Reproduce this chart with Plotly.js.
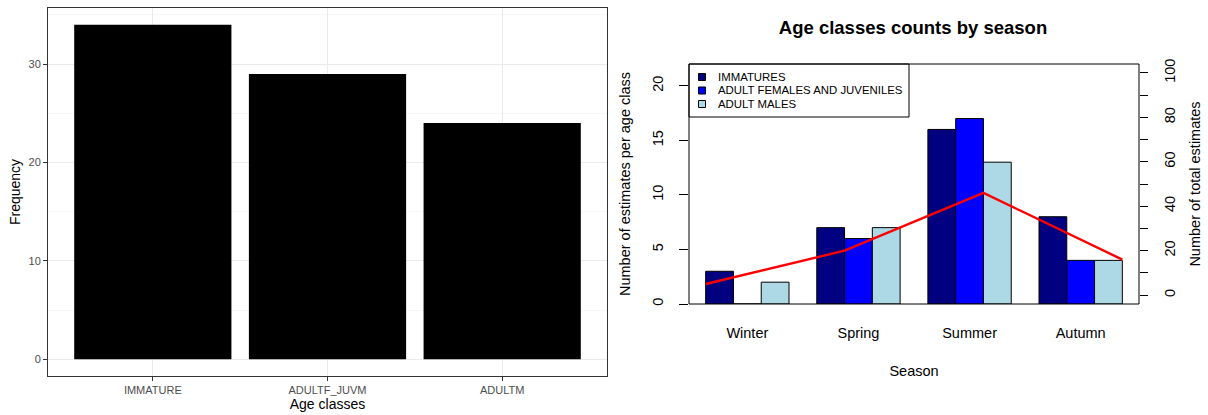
<!DOCTYPE html>
<html>
<head>
<meta charset="utf-8">
<script src="https://cdn.plot.ly/plotly-3.0.1.min.js"></script>
<style>
html,body{margin:0;padding:0;background:#fff;}
#chart{width:1208px;height:415px;}
</style>
</head>
<body>
<div id="chart"></div>
<script>
// ---- data ----
const ageClasses = ['IMMATURE', 'ADULTF_JUVM', 'ADULTM'];
const ageFrequency = [34, 29, 24];

const seasons = ['Winter', 'Spring', 'Summer', 'Autumn'];
const seriesNames = ['IMMATURES', 'ADULT FEMALES AND JUVENILES', 'ADULT MALES'];
const immatures = [3, 7, 16, 8];
const adultFemalesJuveniles = [0, 6, 17, 4];
const adultMales = [2, 7, 13, 4];
const totalEstimates = [5, 20, 46, 16];

const leftTicks = [0, 10, 20, 30];
const leftMinor = [5, 15, 25, 35];
const countTicks = [0, 5, 10, 15, 20];
const totalTicks = [0, 10, 20, 30, 40, 50, 60, 70, 80, 90, 100];
const totalTickText = ['0', '', '20', '', '40', '', '60', '', '80', '', '100'];

// ---- style ----
const FONT = 'Liberation Sans, Arial, sans-serif';
const colors = ['#000080', '#0000FF', '#ADD8E6'];
const seriesValues = [immatures, adultFemalesJuveniles, adultMales];

const traces = [];
traces.push({
  type: 'bar', x: ageClasses, y: ageFrequency, xaxis: 'x', yaxis: 'y',
  width: 0.9, marker: {color: '#000000'}, showlegend: false, hoverinfo: 'x+y'
});
seriesValues.forEach((vals, i) => {
  traces.push({
    type: 'bar', x: seasons, y: vals, name: seriesNames[i], xaxis: 'x2', yaxis: 'y2',
    marker: {color: colors[i], line: {color: '#000000', width: 1}}, showlegend: false
  });
});
traces.push({
  type: 'scatter', mode: 'lines', x: seasons.map((s, i) => i + 1), y: totalEstimates,
  xaxis: 'x3', yaxis: 'y3', line: {color: '#FF0000', width: 2.4}, showlegend: false
});

const W = 1208, H = 415;
const px = v => v / W;
const py = v => (H - v) / H;

// manual legend (box + swatches + labels) inside the right panel
const shapes = [];
const annotations = [];
shapes.push({type: 'rect', xref: 'paper', yref: 'paper',
  x0: px(689), x1: px(909), y0: py(117), y1: py(64),
  line: {color: '#000', width: 1}, fillcolor: '#fff', layer: 'above'});
const rowY = [77, 90.5, 104];
seriesNames.forEach((n, i) => {
  shapes.push({type: 'rect', xref: 'paper', yref: 'paper',
    x0: px(698.5), x1: px(705.5), y0: py(rowY[i] + 3.5), y1: py(rowY[i] - 3.5),
    line: {color: '#000', width: 1}, fillcolor: colors[i], layer: 'above'});
  annotations.push({xref: 'paper', yref: 'paper', x: px(716), y: py(rowY[i]),
    xanchor: 'left', yanchor: 'middle', showarrow: false, text: n,
    font: {family: FONT, size: 11.4, color: '#000'}});
});
// right panel box
shapes.push({type: 'rect', xref: 'x2 domain', yref: 'y2 domain', x0: 0, x1: 1, y0: 0, y1: 1,
  line: {color: '#000', width: 1}, fillcolor: 'rgba(0,0,0,0)', layer: 'above'});

const layout = {
  width: W, height: H,
  margin: {l: 0, r: 0, t: 0, b: 0},
  paper_bgcolor: '#fff', plot_bgcolor: 'rgba(0,0,0,0)',
  font: {family: FONT, color: '#000'},
  barmode: 'group', bargap: 0.25, bargroupgap: 0,
  showlegend: false,
  title: {text: '<b>Age classes counts by season</b>', x: px(913), xanchor: 'center',
    y: py(27.5), yanchor: 'middle', font: {family: FONT, size: 18.5, color: '#000'}},
  // left panel
  xaxis: {
    domain: [px(48), px(607)], anchor: 'y', type: 'category', range: [-0.6, 2.6],
    showgrid: true, gridcolor: '#EBEBEB', gridwidth: 1,
    showline: true, mirror: true, linecolor: '#333333', linewidth: 1,
    ticks: 'outside', ticklen: 4, tickcolor: '#333333', tickwidth: 1,
    tickfont: {family: FONT, size: 11, color: '#4D4D4D'},
    title: {text: 'Age classes', font: {family: FONT, size: 14, color: '#000'}, standoff: 2},
    zeroline: false, fixedrange: true
  },
  yaxis: {
    domain: [py(376), py(8)], anchor: 'x', range: [-1.7, 35.7],
    tickmode: 'array', tickvals: leftTicks,
    showgrid: true, gridcolor: '#EBEBEB', gridwidth: 1,
    minor: {tickmode: 'array', tickvals: leftMinor, showgrid: true, gridcolor: '#F2F2F2', gridwidth: 0.6, ticks: ''},
    showline: true, mirror: true, linecolor: '#333333', linewidth: 1,
    ticks: 'outside', ticklen: 4, tickcolor: '#333333', tickwidth: 1,
    tickfont: {family: FONT, size: 11, color: '#4D4D4D'},
    title: {text: 'Frequency', font: {family: FONT, size: 14, color: '#000'}, standoff: 4},
    zeroline: false, fixedrange: true
  },
  // right panel
  xaxis2: {
    domain: [px(689), px(1139)], anchor: 'y2', type: 'category', range: [-0.525, 3.525],
    showgrid: false, showline: false, zeroline: false, ticks: '', ticklabelstandoff: 18,
    tickfont: {family: FONT, size: 14.5, color: '#000'},
    title: {text: 'Season', font: {family: FONT, size: 14.5, color: '#000'}, standoff: 26},
    fixedrange: true
  },
  yaxis2: {
    domain: [py(304), py(64)], anchor: 'x2', range: [0, 22],
    tickmode: 'array', tickvals: countTicks, tickangle: -90,
    ticks: 'outside', ticklen: 9, tickcolor: '#000', tickwidth: 1, ticklabelstandoff: 10,
    showgrid: false, showline: false, zeroline: false,
    tickfont: {family: FONT, size: 14.5, color: '#000'},
    title: {text: 'Number of estimates per age class', font: {family: FONT, size: 14.5, color: '#000'}, standoff: 16},
    fixedrange: true
  },
  xaxis3: {
    overlaying: 'x2', anchor: 'y3', range: [0.88, 4.12], visible: false, fixedrange: true
  },
  yaxis3: {
    overlaying: 'y2', anchor: 'x3', side: 'right', range: [-4, 104],
    tickmode: 'array', tickvals: totalTicks, ticktext: totalTickText, tickangle: -90,
    ticks: 'outside', ticklen: 8, tickcolor: '#000', tickwidth: 1, ticklabelstandoff: 10,
    showgrid: false, showline: false, zeroline: false,
    tickfont: {family: FONT, size: 14.5, color: '#000'},
    title: {text: 'Number of total estimates', font: {family: FONT, size: 14.5, color: '#000'}, standoff: 12},
    fixedrange: true
  },
  shapes: shapes,
  annotations: annotations
};

Plotly.newPlot('chart', traces, layout, {displayModeBar: false, staticPlot: true});
</script>
</body>
</html>
